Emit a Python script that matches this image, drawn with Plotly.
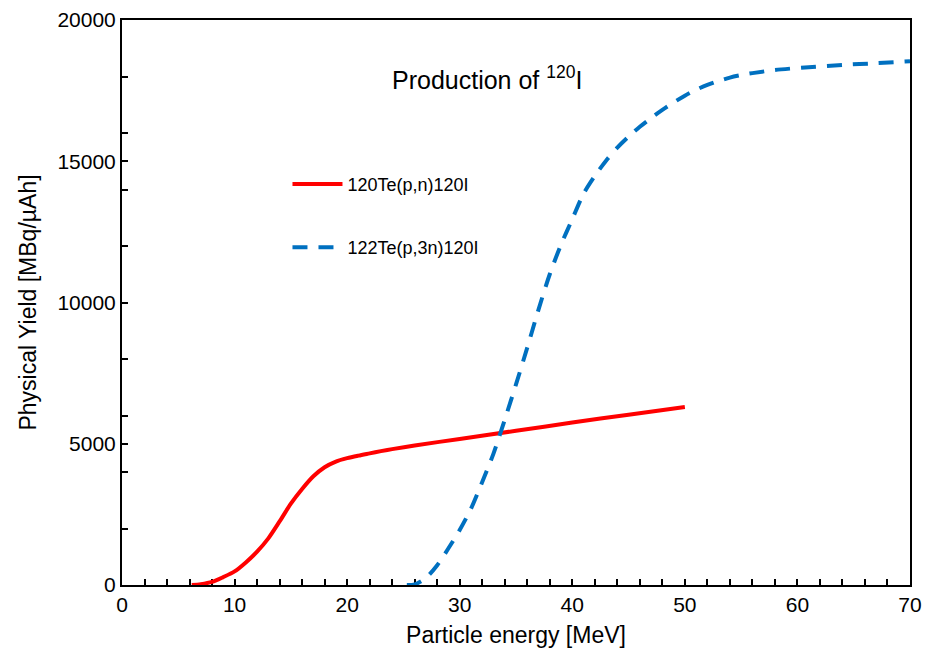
import plotly.graph_objects as go

# 120Te(p,n)120I
red_x = [6.2, 7, 8, 9, 10, 11, 12, 13, 14, 15, 16, 17, 18, 19, 20, 21, 22, 23, 24, 26, 30, 35, 40, 45, 50]
red_y = [0, 30, 110, 280, 480, 800, 1180, 1650, 2250, 2880, 3400, 3850, 4170, 4370, 4490,
         4580, 4660, 4740, 4810, 4940, 5170, 5460, 5750, 6030, 6300]

# 122Te(p,3n)120I
blue_x = [25.3, 26, 27, 28, 29, 30, 31, 32, 33, 34, 35, 36, 37, 38, 39, 40, 41, 42, 43, 44,
          45, 46, 47, 48, 49, 50, 51, 52, 53, 54, 55, 56, 58, 61, 64, 67, 70]
blue_y = [0, 20, 250, 700, 1300, 1950, 2700, 3650, 4650, 5850, 7100, 8400, 9750, 11000,
          12050, 12950, 13850, 14480, 15020, 15480, 15870, 16220, 16530, 16820, 17080, 17320,
          17530, 17700, 17840, 17960, 18050, 18120, 18230, 18330, 18410, 18470, 18540]

names = ["120Te(p,n)120I", "122Te(p,3n)120I"]
title_text = "Production of <sup>120</sup>I"
x_title = "Particle energy [MeV]"
y_title = "Physical Yield [MBq/µAh]"

FONT = "Liberation Sans, Arial, sans-serif"

fig = go.Figure()
fig.add_trace(go.Scatter(x=red_x, y=red_y, mode="lines", name=names[0], legendgroup="a",
                         line=dict(color="#ff0000", width=4, shape="spline", smoothing=0.8)))
fig.add_trace(go.Scatter(x=blue_x, y=blue_y, mode="lines", name=names[1], legendgroup="b",
                         line=dict(color="#0070c0", width=4, dash="15px,11px", shape="spline",
                                   smoothing=0.8)))

fig.add_annotation(x=32.4, y=17950, xref="x", yref="y", text=title_text, showarrow=False,
                   font=dict(family=FONT, size=25, color="black"))

axis_common = dict(showgrid=False, zeroline=False, showline=True, linecolor="black", linewidth=2,
                   mirror=True, ticks="inside", ticklen=6, tickwidth=1.5, tickcolor="black",
                   tickfont=dict(family=FONT, size=21, color="black"), layer="below traces",
                   automargin=False)

fig.update_xaxes(range=[0, 70], dtick=10,
                 title=dict(text=x_title, font=dict(family=FONT, size=23, color="black"), standoff=12),
                 minor=dict(dtick=2, ticks="inside", ticklen=6, tickcolor="black", tickwidth=1.5),
                 **axis_common)
fig.update_yaxes(range=[0, 20000], dtick=5000, tickformat="d",
                 title=dict(text=y_title, font=dict(family=FONT, size=23, color="black"), standoff=14),
                 minor=dict(dtick=2000, ticks="inside", ticklen=6, tickcolor="black", tickwidth=1.5),
                 **axis_common)

fig.update_layout(
    width=921, height=646,
    margin=dict(l=114, r=19, t=12, b=69),
    plot_bgcolor="white", paper_bgcolor="white",
    font=dict(family=FONT, color="black"),
    legend=dict(x=0.21, y=0.742, xanchor="left", yanchor="top", bgcolor="rgba(0,0,0,0)",
                font=dict(family=FONT, size=18, color="black"), traceorder="grouped",
                tracegroupgap=37, itemwidth=50),
)

fig.write_html("out.html")
